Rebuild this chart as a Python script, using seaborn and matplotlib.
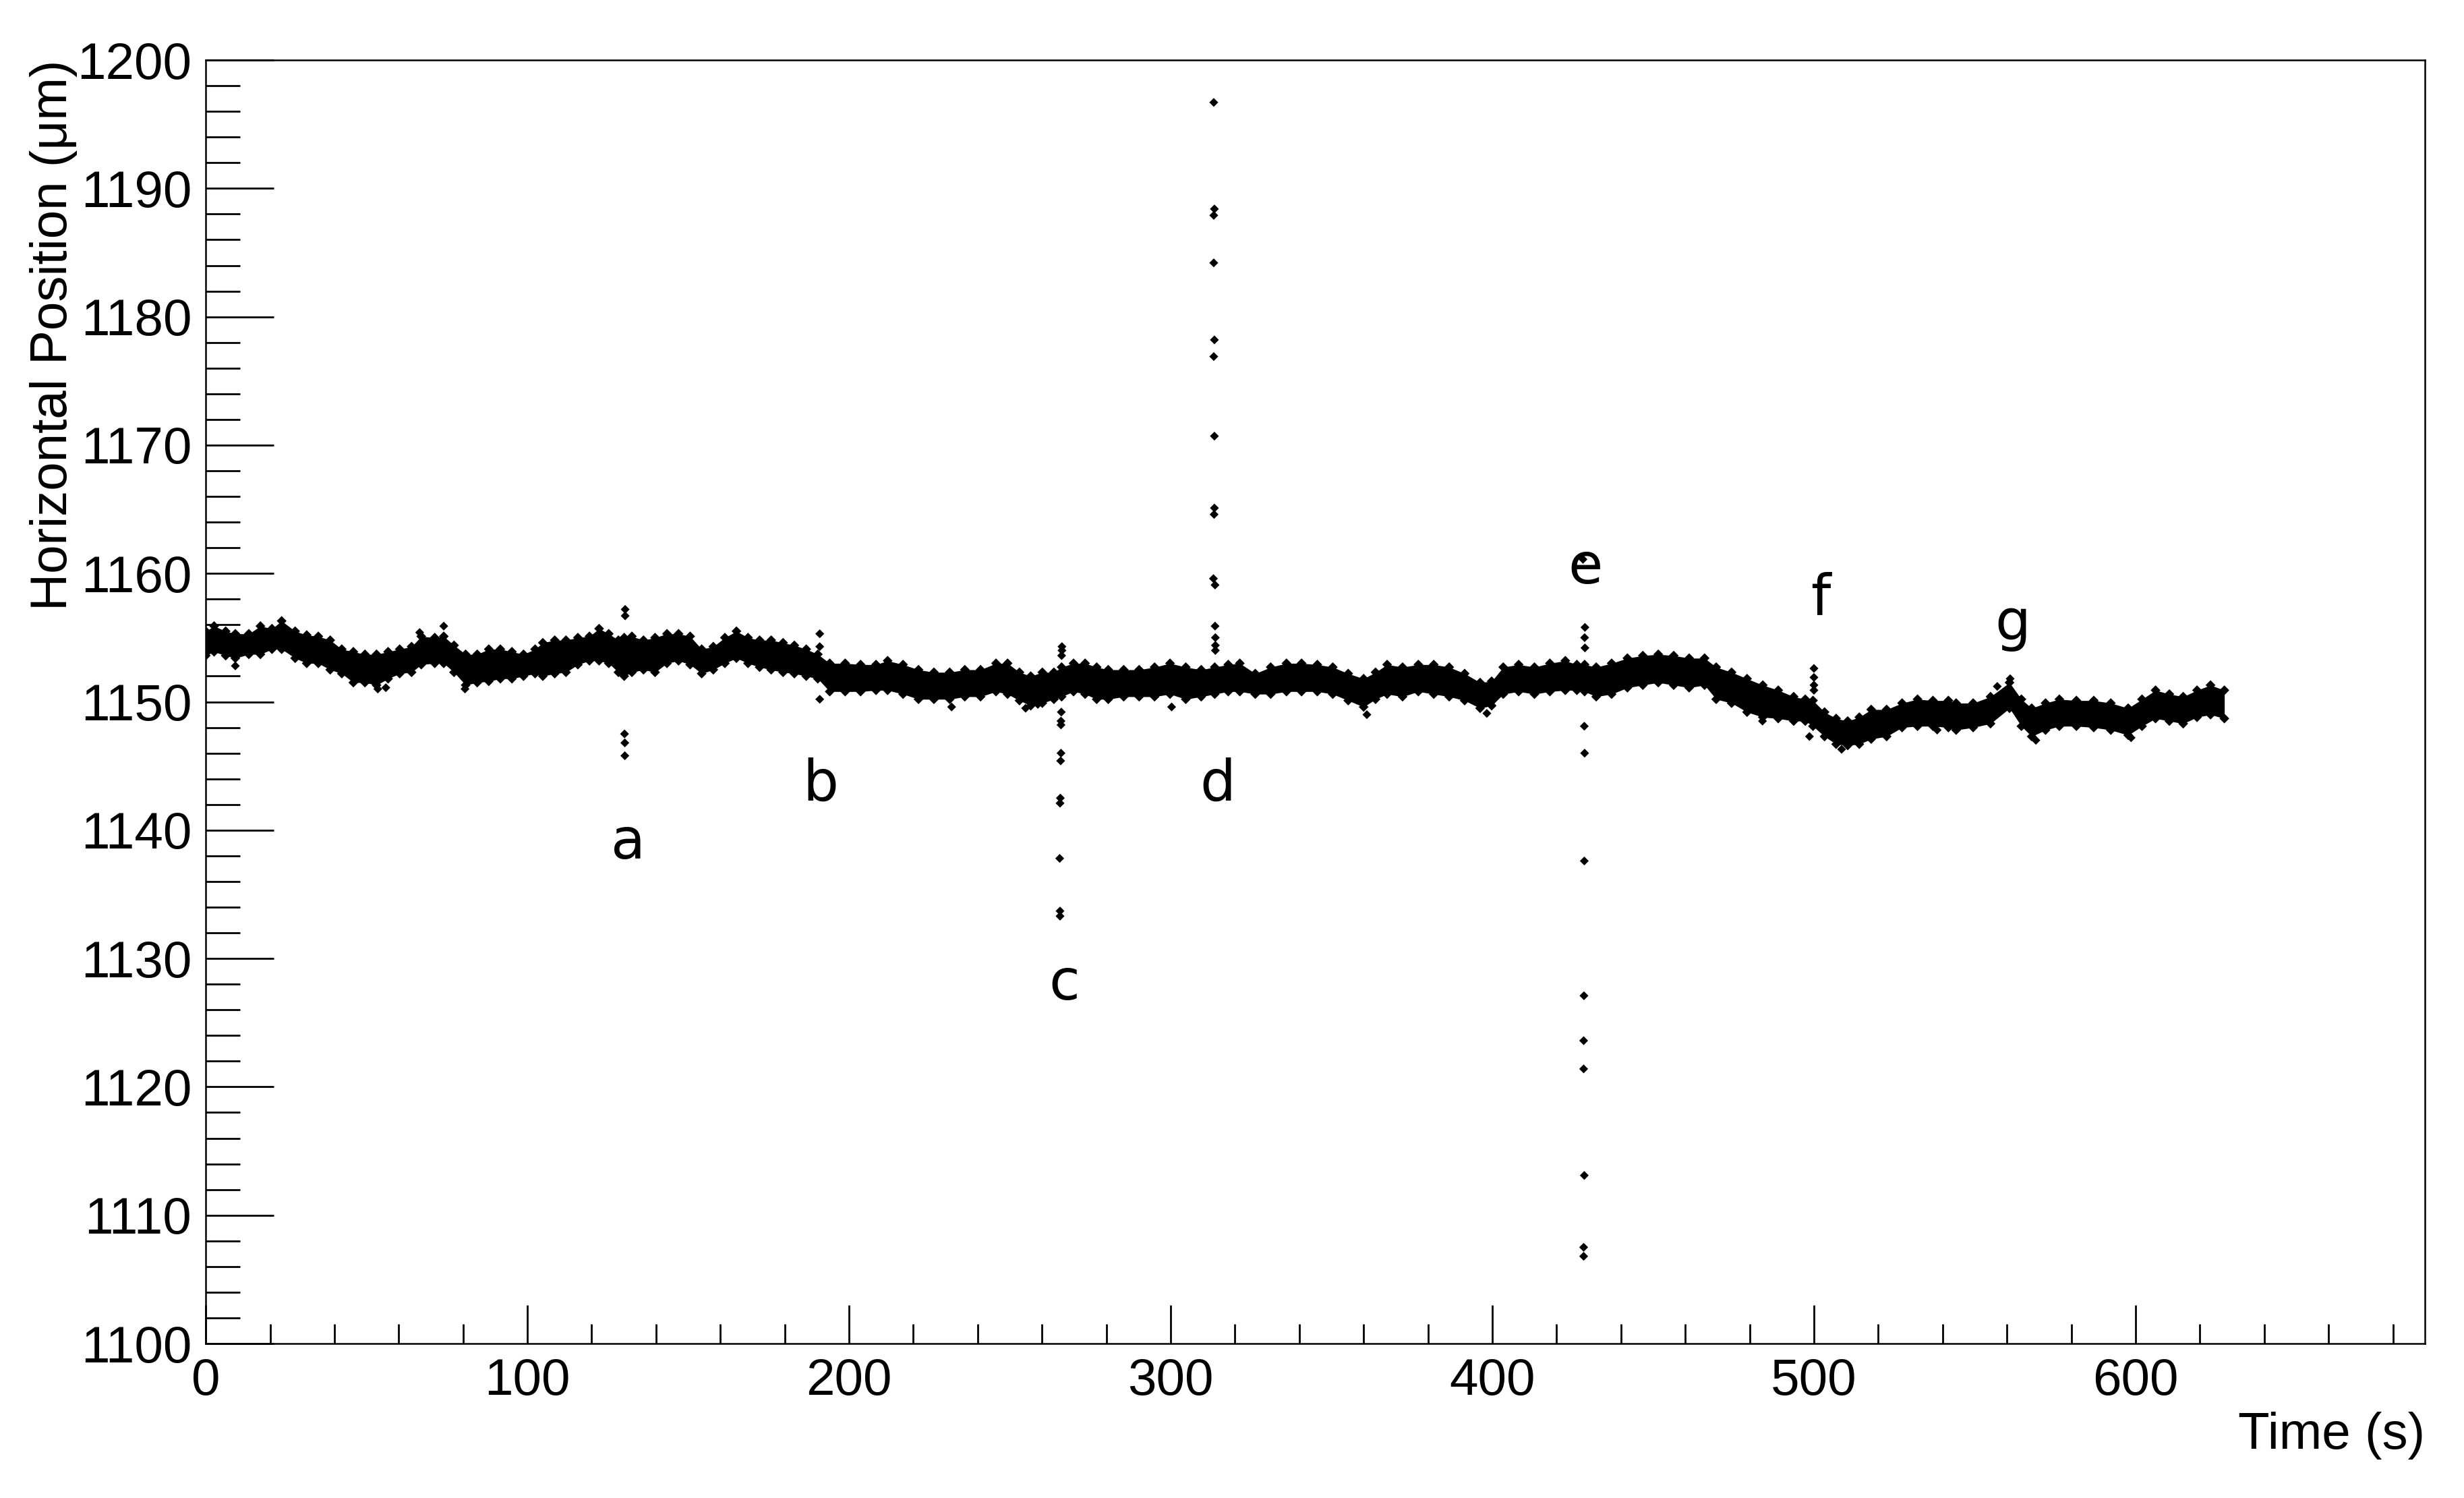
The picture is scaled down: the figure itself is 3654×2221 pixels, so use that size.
import matplotlib
matplotlib.use("Agg")
import matplotlib.pyplot as plt
import numpy as np
import pandas as pd
import seaborn as sns
from matplotlib.ticker import MultipleLocator

# ---- data -------------------------------------------------------------
time_s = [0, 2.6, 6.2, 9.2, 13.4, 17, 20.6, 23.6, 27.8, 31.4, 35, 38.7, 42.3, 45.9,
          49.5, 53.1, 56.7, 60.3, 64, 67, 71.2, 74, 77.2, 80.8, 84.4, 88, 91.6, 95.2,
          98.8, 102.4, 104.8, 108.5, 112, 115.7, 119.3, 122.3, 125.3, 128.3, 130.1,
          132.5, 136.1, 139.7, 143.4, 147, 150.6, 154.2, 157.8, 161.4, 165, 168.6,
          172.2, 175.8, 179.5, 183, 186.7, 190.3, 194, 198.8, 203.6, 208.4, 212, 216.8,
          221.6, 226.4, 231.3, 236, 240.9, 245.7, 249.3, 253, 256.5, 260.1, 263.7,
          266.1, 269.8, 273.4, 277, 280.6, 285.4, 290.2, 295, 299.8, 304.7, 309.5,
          313.7, 317.9, 321.5, 326.3, 331.1, 336, 340.7, 345.6, 350.4, 355.2, 360,
          363.7, 367.3, 372.1, 377, 381.8, 386.6, 391.4, 396.2, 399.8, 403.4, 408.2,
          413.1, 417.9, 422.7, 426.3, 428.7, 432.3, 437.1, 442, 446.8, 451.6, 456.4,
          461.2, 466, 469.6, 474.4, 479.2, 484.1, 488.9, 493.7, 497.3, 499.7, 503.3,
          506.9, 510.5, 514.1, 517.8, 522.6, 527.4, 532.2, 537, 541.8, 544.2, 549.5,
          554.9, 560.8, 564.5, 567.7, 572, 576.3, 581.6, 587, 592.3, 597.7, 602,
          606.2, 610.5, 614.8, 619.1, 623.3, 627.6]

band_top = [1155.5, 1155.9, 1155.5, 1155.3, 1155.3, 1155.9, 1155.7, 1156.3, 1155.5, 1155.2,
            1155.1, 1154.8, 1154.1, 1153.9, 1153.7, 1153.7, 1153.9, 1154.1, 1154.3, 1155.1,
            1155.0, 1155.1, 1154.4, 1153.7, 1153.7, 1154.1, 1154.1, 1153.9, 1153.7, 1154.1,
            1154.6, 1154.8, 1154.8, 1155.0, 1155.1, 1155.7, 1155.3, 1154.8, 1155.0, 1155.1,
            1154.8, 1155.0, 1155.3, 1155.3, 1155.1, 1154.1, 1154.3, 1155.0, 1155.5, 1155.0,
            1154.8, 1154.8, 1154.6, 1154.4, 1154.1, 1153.7, 1153.0, 1153.0, 1152.9, 1152.9,
            1153.2, 1152.9, 1152.5, 1152.3, 1152.3, 1152.5, 1152.5, 1153.0, 1153.0, 1152.3,
            1152.0, 1152.3, 1152.3, 1152.7, 1153.0, 1153.0, 1152.7, 1152.5, 1152.5, 1152.5,
            1152.7, 1153.0, 1152.7, 1152.5, 1152.7, 1152.9, 1153.0, 1152.2, 1152.7, 1153.0,
            1153.0, 1152.9, 1152.7, 1152.2, 1151.8, 1152.3, 1152.9, 1152.7, 1152.9, 1152.9,
            1152.7, 1152.2, 1151.5, 1151.6, 1152.7, 1152.9, 1152.7, 1153.0, 1153.2, 1152.9,
            1152.9, 1152.7, 1153.0, 1153.4, 1153.6, 1153.7, 1153.6, 1153.4, 1153.4, 1152.7,
            1152.3, 1151.8, 1151.3, 1150.9, 1150.4, 1150.2, 1150.1, 1149.2, 1148.7, 1148.5,
            1148.8, 1149.4, 1149.4, 1149.9, 1150.2, 1150.1, 1150.1, 1149.9, 1149.9, 1150.4,
            1151.5, 1150.2, 1149.5, 1149.9, 1150.2, 1150.1, 1150.1, 1149.9, 1149.5, 1150.2,
            1150.9, 1150.6, 1150.4, 1150.9, 1151.3, 1150.9]

band_bottom = [1153.6, 1153.9, 1153.6, 1153.4, 1153.7, 1153.7, 1154.1, 1154.1, 1153.4, 1153.0,
               1153.0, 1152.5, 1152.2, 1151.5, 1151.5, 1151.3, 1151.8, 1152.2, 1152.3, 1152.9,
               1153.0, 1153.0, 1152.3, 1151.3, 1151.5, 1151.6, 1151.8, 1151.8, 1152.0, 1152.2,
               1152.0, 1152.2, 1152.3, 1152.9, 1153.2, 1153.2, 1153.0, 1152.3, 1152.0, 1152.3,
               1152.5, 1152.3, 1153.0, 1153.2, 1152.9, 1152.2, 1152.5, 1153.0, 1153.4, 1153.0,
               1152.7, 1152.5, 1152.3, 1152.2, 1152.0, 1151.8, 1150.8, 1150.8, 1150.8, 1150.9,
               1150.9, 1150.6, 1150.2, 1150.2, 1150.2, 1150.4, 1150.4, 1150.8, 1150.6, 1150.1,
               1149.7, 1149.9, 1150.2, 1150.4, 1150.8, 1150.6, 1150.2, 1150.2, 1150.4, 1150.4,
               1150.4, 1150.6, 1150.2, 1150.4, 1150.6, 1150.8, 1150.8, 1150.6, 1150.6, 1150.8,
               1150.8, 1150.8, 1150.6, 1150.1, 1149.6, 1150.2, 1150.6, 1150.4, 1150.8, 1150.6,
               1150.4, 1150.1, 1149.5, 1149.7, 1150.6, 1150.8, 1150.6, 1150.8, 1150.9, 1150.9,
               1150.8, 1150.4, 1150.6, 1151.1, 1151.3, 1151.5, 1151.3, 1151.1, 1151.3, 1150.2,
               1149.9, 1149.2, 1148.8, 1148.7, 1148.5, 1148.5, 1148.1, 1147.3, 1146.7, 1146.6,
               1146.7, 1147.1, 1147.3, 1148.0, 1148.1, 1148.1, 1148.0, 1147.8, 1148.0, 1148.3,
               1149.5, 1148.1, 1147.3, 1147.8, 1148.1, 1148.1, 1148.0, 1147.8, 1147.4, 1148.1,
               1148.7, 1148.5, 1148.3, 1148.8, 1149.0, 1148.7]

# isolated samples (spikes a..g and scattered outliers)
spike_time = [130.4, 130.4, 130.2, 130.3, 130.3,
              74.0, 9.2, 66.5, 80.6, 53.5, 56.0,
              190.9, 190.9, 190.9,
              266.2, 266.2, 266.1, 266.0, 265.9, 265.9, 265.9, 265.8, 265.7, 265.6,
              265.5, 265.6, 265.6,
              313.4, 313.6, 313.4, 313.4, 313.6, 313.4, 313.6, 313.6, 313.5, 313.3,
              313.8, 313.8, 313.9, 313.9, 313.9,
              428.2, 428.8, 428.7, 428.8, 428.6, 428.7, 428.6, 428.5, 428.4, 428.4,
              428.6, 428.4, 428.4,
              500.0, 500.0, 500.0, 500.0,
              231.9, 254.9, 258.7, 300.3, 361.0, 398.3, 484.0, 498.6, 508.6, 538.3,
              569.0, 598.6, 561.0, 557.0]
spike_pos = [1157.2, 1156.7, 1147.5, 1146.8, 1145.8,
             1155.9, 1152.8, 1155.4, 1151.0, 1151.0, 1151.1,
             1155.3, 1154.3, 1150.2,
             1154.3, 1154.0, 1153.6, 1149.2, 1148.5, 1148.2, 1146.0, 1145.4, 1142.5, 1142.1,
             1137.8, 1133.7, 1133.3,
             1196.7, 1188.4, 1187.9, 1184.2, 1178.2, 1176.9, 1170.7, 1165.1, 1164.6, 1159.6,
             1159.1, 1155.9, 1155.0, 1154.4, 1154.0,
             1161.1, 1155.8, 1155.0, 1154.2, 1148.1, 1146.0, 1137.6, 1127.1, 1123.6, 1121.4,
             1113.1, 1107.5, 1106.8,
             1152.6, 1151.9, 1151.3, 1150.9,
             1149.6, 1149.5, 1149.8, 1149.6, 1149.0, 1149.1, 1148.5, 1147.3, 1146.3, 1147.8,
             1147.0, 1147.2, 1151.8, 1151.2]

event_letters = ["a", "b", "c", "d", "e", "f", "g"]
event_time = [131.4, 191.2, 267.0, 314.6, 428.9, 502.1, 561.9]
event_pos = [1137.8, 1142.3, 1126.8, 1142.3, 1159.2, 1156.8, 1154.8]

assert len(time_s) == len(band_top) == len(band_bottom)
assert len(spike_time) == len(spike_pos)

# ---- figure -----------------------------------------------------------
sns.set_style("ticks")
plt.rcParams["font.family"] = ["Liberation Sans", "DejaVu Sans"]

fig = plt.figure(figsize=(36.54, 22.21), dpi=100)
ax = fig.add_axes([0.0835, 0.1031, 0.9007, 0.8568])

# dense band of samples
ax.fill_between(time_s, band_bottom, band_top, color="black", linewidth=0, zorder=2)
edges = pd.DataFrame({
    "t": time_s + time_s,
    "pos": band_top + band_bottom,
})
sns.scatterplot(data=edges, x="t", y="pos", ax=ax, marker="D", s=55,
                color="black", edgecolor="none", linewidth=0, zorder=3, legend=False)

spikes = pd.DataFrame({"t": spike_time, "pos": spike_pos})
sns.scatterplot(data=spikes, x="t", y="pos", ax=ax, marker="D", s=45,
                color="black", edgecolor="none", linewidth=0, zorder=3, legend=False)

for lab, tx, ty in zip(event_letters, event_time, event_pos):
    ax.text(tx, ty, lab, ha="center", va="baseline", fontsize=60,
            family=["DejaVu Sans"], color="black", zorder=4)

ax.set_xlim(0, 690)
ax.set_ylim(1100, 1200)
ax.xaxis.set_major_locator(MultipleLocator(100))
ax.xaxis.set_minor_locator(MultipleLocator(20))
ax.yaxis.set_major_locator(MultipleLocator(10))
ax.yaxis.set_minor_locator(MultipleLocator(2))

ax.tick_params(axis="both", which="both", direction="in", top=False, right=False,
               color="black", width=2.0, labelsize=55, labelcolor="black")
ax.tick_params(axis="y", which="major", length=73, pad=15)
ax.tick_params(axis="y", which="minor", length=37)
ax.tick_params(axis="x", which="major", length=41, pad=15)
ax.tick_params(axis="x", which="minor", length=21)

for sp in ax.spines.values():
    sp.set_visible(True)
    sp.set_linewidth(1.8)
    sp.set_color("black")

ax.set_xlabel("")
ax.set_ylabel("")
ax.text(-0.0687, 1.0, "Horizontal Position (μm)", transform=ax.transAxes,
        rotation=90, ha="center", va="top", fontsize=55, color="black")
ax.text(1.0, -0.082, "Time (s)", transform=ax.transAxes,
        ha="right", va="baseline", fontsize=55, color="black")

fig.savefig("out.png", dpi=100, facecolor="white")
